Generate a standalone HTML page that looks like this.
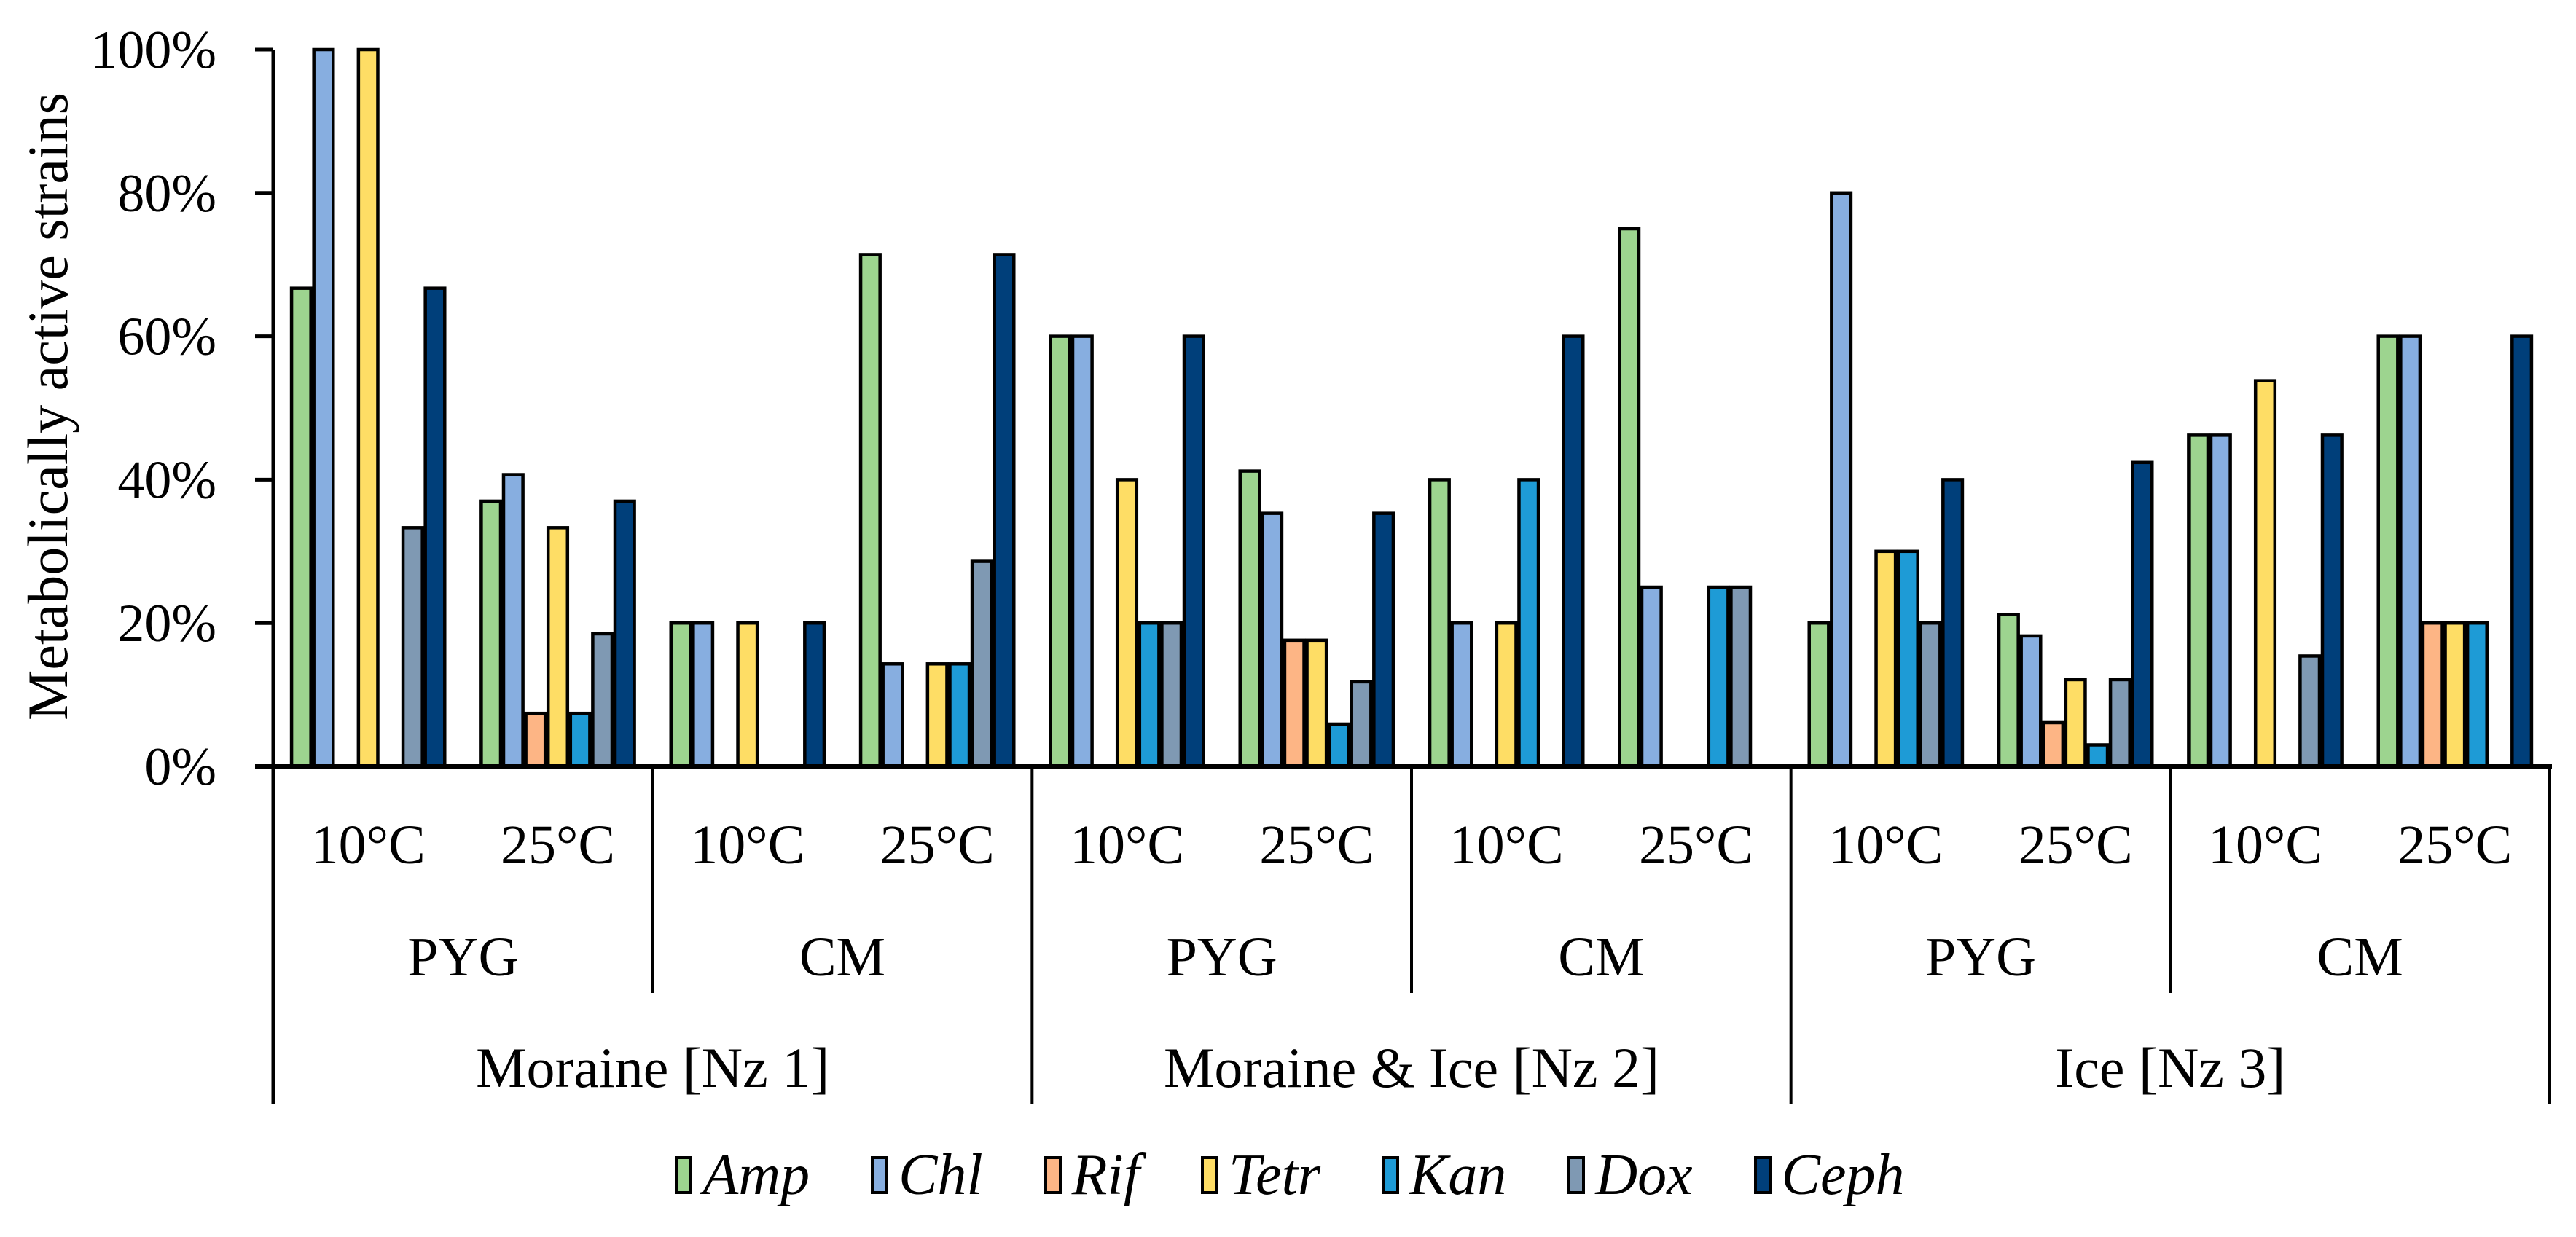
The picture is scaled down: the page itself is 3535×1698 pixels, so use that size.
<!DOCTYPE html>
<html><head><meta charset="utf-8"><style>
html,body{margin:0;padding:0;background:#fff;}
svg{display:block;font-family:"Liberation Serif",serif;}
#legend{position:absolute;left:0;top:1568px;width:3535px;display:flex;justify-content:center;padding-left:5px;box-sizing:border-box;font-family:"Liberation Serif",serif;font-style:italic;font-size:80px;line-height:90px;}
.li{display:flex;align-items:center;margin:0 42px;}
.sw{width:16px;height:44px;border:4px solid #000;margin-right:14px;}
</style></head><body>
<div style="position:relative;width:3535px;height:1698px;overflow:hidden">
<svg id="chart" width="3535" height="1698"></svg>
<div id="legend"></div>
</div>
<script>
const series = ["Amp","Chl","Rif","Tetr","Kan","Dox","Ceph"];
const colors = ["#9dd48f","#87aee0","#fdb585","#fedd65","#1e9bd6","#7f99b3","#003f7a"];
const temps = ["10°C","25°C","10°C","25°C","10°C","25°C","10°C","25°C","10°C","25°C","10°C","25°C"];
const media = ["PYG","CM","PYG","CM","PYG","CM"];
const sites = ["Moraine [Nz 1]","Moraine & Ice [Nz 2]","Ice [Nz 3]"];
const yTicks = [0,20,40,60,80,100];
const amp  = [66.7,37,20,71.4,60,41.2,40,75,20,21.2,46.2,60];
const chl  = [100,40.7,20,14.3,60,35.3,20,25,80,18.2,46.2,60];
const rif  = [0,7.4,0,0,0,17.6,0,0,0,6.1,0,20];
const tetr = [100,33.3,20,14.3,40,17.6,20,0,30,12.1,53.8,20];
const kan  = [0,7.4,0,14.3,20,5.9,40,25,30,3.0,0,20];
const dox  = [33.3,18.5,0,28.6,20,11.8,0,25,20,12.1,15.4,0];
const ceph = [66.7,37,20,71.4,60,35.3,60,0,40,42.4,46.2,60];
const values = [amp,chl,rif,tetr,kan,dox,ceph];

const svg = document.getElementById('chart');
const NS = "http://www.w3.org/2000/svg";
const X0 = 375, X1 = 3499, Y0 = 1052, Y100 = 68;
const catW = (X1 - X0) / temps.length;
const barW = 30.6, off = (catW - barW*7)/2;
const y = v => Y0 - (Y0 - Y100) * v / 100;
const xCat = i => X0 + i*catW;
function mk(tag, attrs, parent){const e=document.createElementNS(NS,tag);for(const k in attrs)e.setAttribute(k,attrs[k]);(parent||svg).appendChild(e);return e;}

series.forEach((s,si)=>{
  values[si].forEach((v,ci)=>{
    if(v<=0) return;
    const r = mk('rect',{x:xCat(ci)+off+si*barW+2,y:y(v),width:barW-4,height:Y0-y(v),fill:colors[si],stroke:'#000','stroke-width':4.5});
    
    
  });
});
const ya = mk('line',{x1:X0,y1:Y100,x2:X0,y2:1516,stroke:'#000','stroke-width':5});


yTicks.forEach(t=>{
  mk('line',{x1:350,y1:y(t),x2:X0,y2:y(t),stroke:'#000','stroke-width':5});
  const tx = mk('text',{x:297,y:y(t)+25,'text-anchor':'end','font-size':74});
  tx.textContent = t+'%';
  
  
});
const xa = mk('line',{x1:350,y1:Y0,x2:X1+3,y2:Y0,stroke:'#000','stroke-width':6});


for(let i=2;i<=temps.length;i+=2){
  const major = (i%4===0);
  mk('line',{x1:xCat(i),y1:Y0,x2:xCat(i),y2:major?1516:1363,stroke:'#000','stroke-width':4});
}
temps.forEach((t,i)=>{
  const tx = mk('text',{x:xCat(i)+catW/2,y:1185,'text-anchor':'middle','font-size':76});
  tx.textContent=t;
  
  
});
media.forEach((m,i)=>{
  const tx = mk('text',{x:xCat(i*2)+catW,y:1339,'text-anchor':'middle','font-size':76});
  tx.textContent=m;
  
  
});
sites.forEach((s,i)=>{
  const tx = mk('text',{x:xCat(i*4)+catW*2,y:1492,'text-anchor':'middle','font-size':78});
  tx.textContent=s;
  
  
});
const yt = mk('text',{x:0,y:0,'text-anchor':'middle','font-size':78,transform:'translate(92,558) rotate(-90)'});
yt.textContent='Metabolically active strains';



const lg = document.getElementById('legend');
series.forEach((s,si)=>{
  const it=document.createElement('div'); it.className='li';
  
  
  const sw=document.createElement('div'); sw.className='sw'; sw.style.background=colors[si];
  const tx=document.createElement('span'); tx.textContent=s;
  it.appendChild(sw); it.appendChild(tx); lg.appendChild(it);
});
</script>
</body></html>
